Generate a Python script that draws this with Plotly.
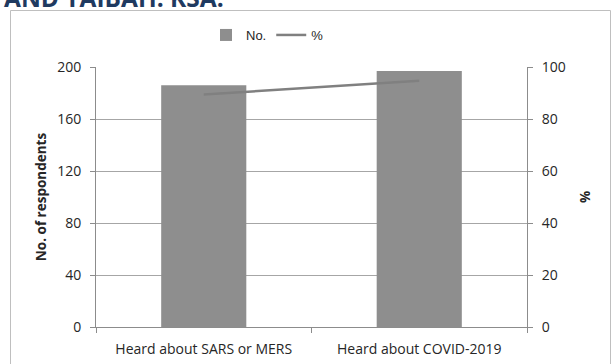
import plotly.graph_objects as go

categories = ["Heard about SARS or MERS", "Heard about COVID-2019"]
counts = [186, 197]
percents = [89.4, 94.7]
left_ticks = [0, 40, 80, 120, 160, 200]
right_ticks = [0, 20, 40, 60, 80, 100]

W, H = 612, 364
L, R, T, B = 96, 527, 67, 327

def px(x):
    return (x - L) / (R - L)

def py(y):
    return (B - y) / (B - T)

fig = go.Figure()
fig.add_trace(go.Bar(x=categories, y=counts, name="No.",
                     marker=dict(color="#8e8e8e", line=dict(width=0)),
                     width=0.395))
fig.add_trace(go.Scatter(x=categories, y=percents, name="%", yaxis="y2",
                         mode="lines", line=dict(color="#808080", width=2.5)))

font = "Open Sans"
fig.update_layout(
    width=W, height=H,
    margin=dict(l=L, r=W - R, t=T, b=H - B, autoexpand=False),
    paper_bgcolor="white", plot_bgcolor="white",
    font=dict(family=font, color="#262626", size=14),
    showlegend=True,
    legend=dict(orientation="h", x=px(206), xanchor="left", y=py(35), yanchor="middle",
                font=dict(size=13, family="Liberation Sans"), itemwidth=30, tracegroupgap=0,
                bgcolor="rgba(0,0,0,0)"),
    bargap=0.6,
    xaxis=dict(type="category", showline=True, linecolor="#8c8c8c", linewidth=1,
               ticks="outside", tickson="boundaries", ticklen=5, tickcolor="#8c8c8c",
               tickfont=dict(size=14), showgrid=False, range=[-0.5, 1.5],
               ticklabelstandoff=9, automargin=False),
    yaxis=dict(range=[0, 200], tickvals=left_ticks, showline=True, linecolor="#8c8c8c",
               ticks="outside", ticklen=5, tickcolor="#8c8c8c", showgrid=True,
               gridcolor="#a6a6a6", gridwidth=1, zeroline=False,
               tickfont=dict(size=14), ticklabelstandoff=6, automargin=False,
               title=dict(text="<b>No. of respondents</b>", font=dict(size=13.5), standoff=7)),
    yaxis2=dict(range=[0, 100], tickvals=right_ticks, overlaying="y", side="right",
                showline=True, linecolor="#8c8c8c", ticks="outside", ticklen=5,
                tickcolor="#8c8c8c", showgrid=False, zeroline=False, automargin=False,
                tickfont=dict(size=14), ticklabelstandoff=6,
                title=dict(text="<b>%</b>", font=dict(size=13.5), standoff=15)),
)

fig.add_shape(type="rect", xref="paper", yref="paper",
              x0=px(10.5), x1=px(610.5), y0=py(380), y1=py(10.5),
              line=dict(color="#bfbfbf", width=1), fillcolor="rgba(0,0,0,0)", layer="below")

fig.add_annotation(text="<b>AND TAIBAH. KSA.</b>", xref="paper", yref="paper",
                   x=px(2), y=py(16), xanchor="left", yanchor="bottom", showarrow=False,
                   font=dict(family=font, size=24.5, color="#1f3a60"))

fig.write_html("out.html")
